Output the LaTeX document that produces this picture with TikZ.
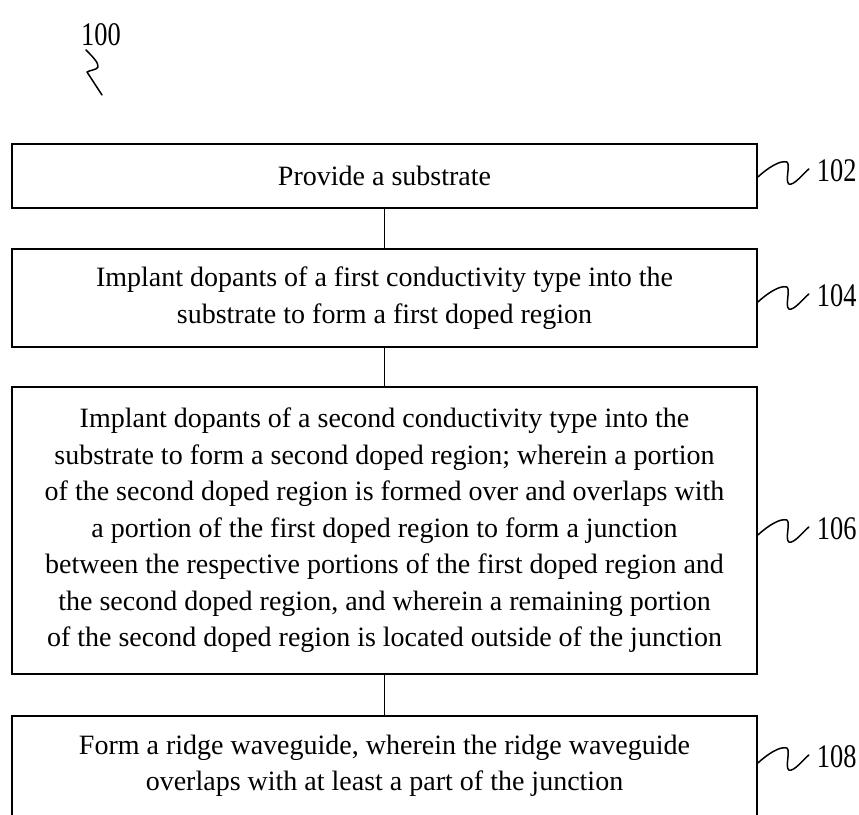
\documentclass[tikz,border=0pt]{standalone}
\usepackage{fontspec}
\setmainfont{Liberation Serif}
\usetikzlibrary{calc}
\begin{document}
\begin{tikzpicture}[x=1pt,y=-1pt,
  stepbox/.style={draw, line width=1.6pt, minimum width=745pt, inner sep=0pt,
    align=center, font=\fontsize{28}{36.5}\selectfont},
  boxtext/.style={align=center, inner sep=0pt, font=\fontsize{28}{36.5}\selectfont},
  link/.style={line width=1.6pt},
  squig/.style={line width=1.5pt, line join=round, line cap=round},
  refnum/.style={inner sep=0pt, font=\fontsize{33}{33}\selectfont, xscale=0.8}]
\useasboundingbox (0,0) rectangle (859,814);
\clip (0,0) rectangle (859,814);

% process steps
\node[stepbox, minimum height=64pt] (b1) at (384.5,176) {Provide a substrate};
\node[stepbox, minimum height=98pt] (b2) at (384.5,298)
  {Implant dopants of a first conductivity type into the\\
   substrate to form a first doped region};
\node[stepbox, minimum height=287pt] (b3) at (384.5,530.5)
  {Implant dopants of a second conductivity type into the\\
   substrate to form a second doped region; wherein a portion\\
   of the second doped region is formed over and overlaps with\\
   a portion of the first doped region to form a junction\\
   between the respective portions of the first doped region and\\
   the second doped region, and wherein a remaining portion\\
   of the second doped region is located outside of the junction};
\node[stepbox, minimum height=140pt, anchor=north] (b4) at (384.5,715) {};
\node[boxtext] (t4) at (384.5,766)
  {Form a ridge waveguide, wherein the ridge waveguide\\
   overlaps with at least a part of the junction};

% links between steps
\draw[link] (b1.south) -- (b2.north);
\draw[link] (b2.south) -- (b3.north);
\draw[link] (b3.south) -- (b4.north);

% reference numerals with their leader squiggles
\coordinate (s1) at ($(b1.east)+(0,1)$);
\coordinate (s2) at ($(b2.east)+(0,4)$);
\coordinate (s3) at ($(b3.east)+(0,4.5)$);
\coordinate (s4) at (b4.east |- 0,763);
\foreach \s/\n in {s1/102, s2/104, s3/106, s4/108}{
  \draw[squig, shift={(\s)}] (0,0) .. controls (10,-9) and (22,-17) .. (29,-15)
    .. controls (33,-13) and (27,4) .. (31,7)
    .. controls (36,9) and (45,-3) .. (51,-8);
  \node[refnum, anchor=west] (n\n) at ($(\s)+(59,-6)$) {\n};
}

% figure numeral
\node[refnum] (n100) at (101,35) {100};
\draw[squig] (86,50) .. controls (92,56) and (99,63) .. (98,67)
  .. controls (97,70) and (90,70) .. (87,72) -- (102,95);
\end{tikzpicture}
\end{document}
